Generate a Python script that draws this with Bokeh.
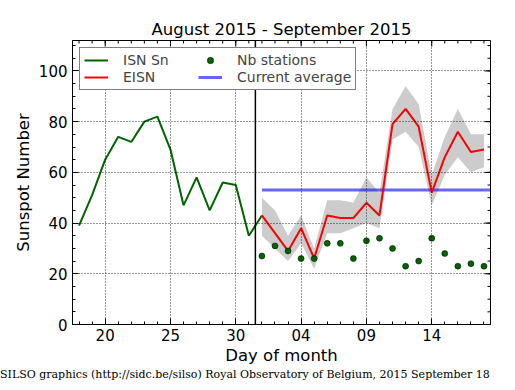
from bokeh.plotting import figure
from bokeh.layouts import column
from bokeh.models import (Range1d, FixedTicker, Legend, LegendItem, Span, Div,
                          AllLabels)
from bokeh.embed import file_html
from bokeh.resources import INLINE

# ---------------- data ----------------
# day numbers: August d -> d, September d -> 31 + d
isn_days = list(range(18, 33))          # Aug 18 .. Sep 1
isn_sn = [39, 51, 65, 74, 72, 80, 82, 69, 47, 58, 45, 56, 55, 35, 43]

eisn_days = list(range(32, 50))         # Sep 1 .. Sep 18
eisn = [43, 36, 29, 38, 26, 43, 42, 42, 48, 43, 79, 85, 78, 52, 66, 76, 68, 69]
eisn_low = [35, 30, 25, 32, 22, 36, 36, 38, 40, 38, 73, 76, 70, 47, 59, 66, 60, 62]
eisn_high = [50, 45, 35, 43, 30, 49, 49, 48, 58, 52, 85, 94, 87, 59, 74, 85, 75, 75]
nb_stations = [27, 31, 29, 26, 26, 32, 32, 26, 33, 34, 30, 23, 25, 34, 28, 23, 24, 23]

current_average = 53
month_boundary = 31.5

x_tick_values = [20, 25, 30, 35, 40, 45]
x_tick_labels = ["20", "25", "30", "04", "09", "14"]
x_minor_values = list(range(18, 50))
y_tick_values = [0, 20, 40, 60, 80, 100]
y_tick_labels = ["0", "20", "40", "60", "80", "100"]
y_minor_values = list(range(0, 112, 5))

title_text = "August 2015 - September 2015"
footer_text = ("SILSO graphics (http://sidc.be/silso) Royal Observatory of Belgium, "
               "2015 September 18")

# ---------------- layout ----------------
X0, X1 = 17.5, 49.5
Y0, Y1 = 0, 112
FW, FH = 418, 284
BL, BR, BT, BB = 72, 23, 40, 44
MAJ, MIN = 6, 3   # tick lengths, px
TOTAL_W = BL + FW + BR

px_x = FW / (X1 - X0)
px_y = FH / (Y1 - Y0)

p = figure(output_backend="svg", toolbar_location=None,
           frame_width=FW, frame_height=FH,
           min_border_left=BL, min_border_right=BR,
           min_border_top=BT, min_border_bottom=BB,
           x_range=Range1d(X0, X1), y_range=Range1d(Y0, Y1),
           background_fill_color="white", border_fill_color="white")
p.outline_line_color = "black"
p.outline_line_width = 1

xt = FixedTicker(ticks=x_tick_values, minor_ticks=x_minor_values)
yt = FixedTicker(ticks=y_tick_values, minor_ticks=y_minor_values)

xax = p.below[0]
yax = p.left[0]
xax.ticker = xt
yax.ticker = yt
xax.major_label_overrides = dict(zip(x_tick_values, x_tick_labels))
yax.major_label_overrides = dict(zip(y_tick_values, y_tick_labels))

for ax in [xax, yax]:
    ax.major_label_policy = AllLabels()
    ax.axis_line_color = "black"
    ax.axis_line_width = 1
    ax.major_tick_in = MAJ
    ax.major_tick_out = 0
    ax.minor_tick_in = MIN
    ax.minor_tick_out = 0
    ax.major_tick_line_color = "black"
    ax.minor_tick_line_color = "black"
    ax.major_label_text_font = "DejaVu Sans"
    ax.major_label_text_font_size = "15px"
    ax.major_label_text_color = "black"
    ax.axis_label_text_font = "DejaVu Sans"
    ax.axis_label_text_font_size = "16.5px"
    ax.axis_label_text_font_style = "normal"
    ax.axis_label_text_color = "black"

xax.axis_label = "Day of month"
xax.major_label_standoff = 4
xax.axis_label_standoff = 2
yax.axis_label = "Sunspot Number"
yax.major_label_standoff = 5
yax.axis_label_standoff = 3

p.xgrid.ticker = xt
p.ygrid.ticker = yt
for g in [p.xgrid[0], p.ygrid[0]]:
    g.grid_line_color = "black"
    g.grid_line_dash = "1 2"
    g.grid_line_width = 1
    g.grid_line_alpha = 0.8
    g.level = "guide"

# mirrored ticks on the top and right edges of the frame
for vals, ln in [(x_tick_values, MAJ), (x_minor_values, MIN)]:
    p.segment(x0=vals, x1=vals, y0=[Y1] * len(vals), y1=[Y1 - ln / px_y] * len(vals),
              line_color="black", line_width=1)
for vals, ln in [(y_tick_values, MAJ), (y_minor_values, MIN)]:
    p.segment(x0=[X1] * len(vals), x1=[X1 - ln / px_x] * len(vals), y0=vals, y1=vals,
              line_color="black", line_width=1)

# ---------------- glyphs ----------------
p.varea(x=eisn_days, y1=eisn_low, y2=eisn_high, fill_color="#cccccc")
r_avg = p.segment(x0=[eisn_days[0]], x1=[X1], y0=[current_average],
                  y1=[current_average], line_color="blue", line_alpha=0.6,
                  line_width=3)
r_isn = p.line(isn_days, isn_sn, line_color="#006400", line_width=2)
r_eisn = p.line(eisn_days, eisn, line_color="red", line_width=2)
r_nb = p.scatter(eisn_days, nb_stations, size=6, fill_color="#006400",
                 line_color="black", line_width=0.5)

p.add_layout(Span(location=month_boundary, dimension="height",
                  line_color="black", line_width=1.5, level="glyph"))

legend = Legend(items=[
    LegendItem(label="ISN Sn", renderers=[r_isn]),
    LegendItem(label="EISN", renderers=[r_eisn]),
    LegendItem(label="Nb stations", renderers=[r_nb]),
    LegendItem(label="Current average", renderers=[r_avg]),
], ncols=2, location="top_left")
legend.label_text_font = "DejaVu Sans"
legend.label_text_font_size = "14px"
legend.glyph_width = 24
legend.glyph_height = 16
legend.label_height = 16
legend.label_width = 74
legend.label_standoff = 15
legend.padding = 4
legend.spacing = 1
legend.margin = 7
legend.border_line_color = "black"
legend.border_line_width = 1
legend.background_fill_alpha = 1
p.add_layout(legend)

# title
p.title.text = title_text
p.title.align = "center"
p.title.text_font = "DejaVu Sans"
p.title.text_font_size = "16.5px"
p.title.text_font_style = "normal"
p.title.text_color = "black"
p.title.standoff = 4

# footer as a text line under the figure
footer = Div(text=footer_text, width=TOTAL_W, height=14, margin=(0, 0, 0, 0),
             styles={"font-family": "DejaVu Serif", "font-size": "11px",
                     "line-height": "13px", "white-space": "nowrap",
                     "color": "black"})

layout = column(p, footer, spacing=0)

open("out.html", "w").write(file_html(layout, INLINE))
